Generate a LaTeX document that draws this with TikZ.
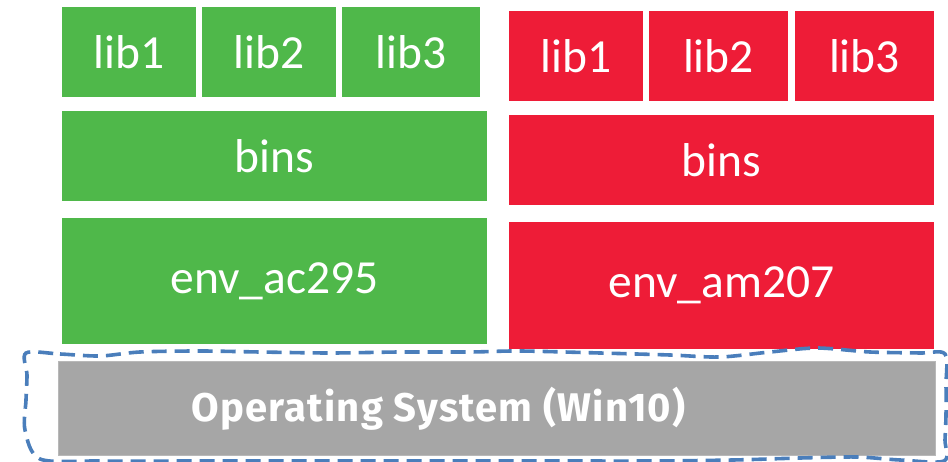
\documentclass[tikz,border=0pt]{standalone}
\usepackage{fontspec}
\setmainfont{Carlito}
\newfontfamily\osfont[LetterSpace=3]{Fira Sans}
\definecolor{envgreen}{HTML}{4FB84A}
\definecolor{envred}{HTML}{EE1C37}
\definecolor{osgray}{HTML}{A6A6A6}
\definecolor{dashblue}{HTML}{4A7EBB}
\tikzset{
  blk/.style={rectangle, inner sep=0pt, outer sep=0pt, text=white,
    font=\fontsize{47.5}{52}\selectfont},
  gblk/.style={blk, fill=envgreen},
  rblk/.style={blk, fill=envred},
  osblk/.style={rectangle, inner sep=0pt, outer sep=0pt, fill=osgray, draw=osgray!80!white, line width=0.6pt},
  ostxt/.style={inner sep=0pt, text=white, font=\osfont\bfseries\fontsize{40}{46}\selectfont},
  wobble/.style={draw=dashblue, line width=3.6pt, dash pattern=on 15pt off 8pt}
}
\begin{document}
\begin{tikzpicture}[x=1pt, y=-1pt]
\useasboundingbox (0,0) rectangle (948,462);
% green stack
\node[gblk, minimum width=134pt, minimum height=90pt] (g1) at (129,52) {lib1};
\node[gblk, minimum width=134pt, minimum height=90pt] (g2) at (269,52) {lib2};
\node[gblk, minimum width=138pt, minimum height=90pt] (g3) at (411,52) {lib3};
\node[gblk, minimum width=425pt, minimum height=90pt] (gb) at (274.5,156) {bins};
\node[gblk, minimum width=425pt, minimum height=126pt] (ge) at (274.5,281) {env\_ac295};
% red stack
\node[rblk, minimum width=134pt, minimum height=90pt] (r1) at (576,56) {lib1};
\node[rblk, minimum width=139pt, minimum height=90pt] (r2) at (718.5,56) {lib2};
\node[rblk, minimum width=139pt, minimum height=90pt] (r3) at (864.5,56) {lib3};
\node[rblk, minimum width=425pt, minimum height=90pt] (rb) at (721.5,160) {bins};
\node[rblk, minimum width=425pt, minimum height=127pt] (re) at (721.5,285.5) {env\_am207};
% operating system
\node[osblk, minimum width=877pt, minimum height=94pt] (os) at (496.5,408) {};
\node[ostxt] (ostext) at (438.5,409) {Operating System (Win10)};
% hand-drawn dashed outline
\draw[wobble] plot[smooth cycle, tension=0.5] coordinates {
  (26,353) (60,354) (100,356) (140,352) (200,351) (260,352) (330,353)
  (400,352) (470,352) (520,351) (600,353) (670,355) (720,357) (770,352)
  (817,348) (870,352) (920,353) (945,354)
  (946,385) (946,415) (945,440) (944,461)
  (900,460) (857,457) (800,458) (733,460) (650,461) (560,461) (480,461)
  (400,461) (300,461) (200,461) (100,461) (40,459)
  (25,430) (26,400) (27,375)};
\end{tikzpicture}
\end{document}
